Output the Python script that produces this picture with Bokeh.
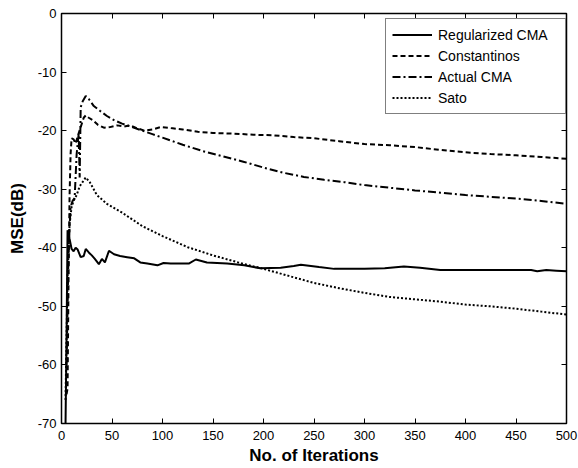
from bokeh.plotting import figure
from bokeh.models import (Range1d, FixedTicker, LinearAxis, Legend, LegendItem)
from bokeh.embed import file_html
from bokeh.resources import INLINE

# ---------------- data ----------------
reg_x = [4, 5, 6, 7, 8, 10, 12, 14, 16, 19, 22, 24, 27, 30, 33, 37, 40, 43, 47, 52,
         58, 65, 72, 78, 85, 95, 101, 108, 115, 126, 133, 144, 164, 181, 197, 217,
         230, 237, 255, 270, 300, 320, 339, 355, 375, 400, 448, 465, 471, 480, 490, 500]
reg_y = [-70, -55, -37, -37.5, -38.5, -40.2, -40.6, -40, -40.3, -41.6, -41.4, -40.2,
         -40.8, -41.3, -41.9, -42.8, -41.9, -42.5, -40.5, -41.1, -41.4, -41.6, -41.8,
         -42.5, -42.7, -43.0, -42.6, -42.7, -42.7, -42.7, -42.0, -42.5, -42.7, -43.0,
         -43.5, -43.4, -43.1, -42.9, -43.3, -43.6, -43.6, -43.5, -43.2, -43.4, -43.8,
         -43.8, -43.8, -43.8, -44.0, -43.8, -43.9, -44.0]

con_x = [5, 6, 7, 8, 9, 10, 12, 14, 16, 19, 22, 24, 27, 31, 36, 42, 48, 55, 62, 68,
         75, 82, 90, 98, 110, 120, 135, 150, 170, 190, 210, 230, 250, 275, 300, 325,
         350, 375, 400, 425, 450, 475, 500]
con_y = [-65, -64, -45, -31, -24, -21.3, -21.5, -22.2, -21, -19.4, -17.8, -17.4, -17.8,
         -18.2, -19, -19.5, -19.4, -19.1, -19.3, -19.1, -19.6, -20.0, -19.8, -19.4,
         -19.6, -19.8, -20.2, -20.4, -20.5, -20.7, -20.8, -21.1, -21.3, -21.8, -22.3,
         -22.5, -22.8, -23.3, -23.7, -24.0, -24.2, -24.5, -24.8]

act_x = [5, 7, 9, 11, 13, 15, 17, 18, 19, 21, 24, 27, 32, 38, 45, 52, 60, 70, 80, 90,
         100, 120, 140, 160, 180, 200, 220, 240, 260, 280, 300, 325, 350, 375, 400,
         425, 450, 475, 500]
act_y = [-60, -40, -33, -32, -31.5, -24, -20.5, -28, -16, -15, -14.1, -14.6, -15.8,
         -16.6, -17.5, -18.2, -18.8, -19.4, -20, -20.6, -21.2, -22.4, -23.5, -24.4,
         -25.3, -26.3, -27.2, -27.9, -28.4, -28.8, -29.3, -29.75, -30.2, -30.6, -31.0,
         -31.3, -31.6, -32.0, -32.5]

sato_x = [4, 6, 8, 10, 12, 15, 18, 20, 24, 28, 35, 45, 60, 80, 100, 125, 150, 175, 200,
          225, 250, 275, 300, 325, 350, 375, 400, 425, 450, 475, 500]
sato_y = [-66, -45, -36, -33, -32, -31, -29.5, -29, -28, -28.8, -31.0, -32.5, -34.0,
          -36.3, -38.0, -39.9, -41.3, -42.5, -43.6, -44.8, -46.0, -46.9, -47.7, -48.4,
          -48.8, -49.2, -49.7, -50.0, -50.4, -50.9, -51.4]

series_names = ["Regularized CMA", "Constantinos", "Actual CMA", "Sato"]

x_ticks = [0, 50, 100, 150, 200, 250, 300, 350, 400, 450, 500]
x_tick_labels = ["0", "50", "100", "150", "200", "250", "300", "350", "400", "450", "500"]
y_ticks = [-70, -60, -50, -40, -30, -20, -10, 0]
y_tick_labels = ["-70", "-60", "-50", "-40", "-30", "-20", "-10", "0"]

FONT = "Liberation Sans"

p = figure(frame_width=505, frame_height=410,
           x_range=Range1d(0, 500), y_range=Range1d(-70, 0),
           output_backend="svg", toolbar_location=None,
           min_border_left=61, min_border_right=12, min_border_top=13, min_border_bottom=45,
           background_fill_color="white", border_fill_color="white")
p.xgrid.visible = False
p.ygrid.visible = False
p.outline_line_color = "black"
p.outline_line_width = 1.5
p.outline_line_alpha = 1.0

def style_axis(ax, ticks, labels, show_labels=True):
    ax.ticker = FixedTicker(ticks=ticks)
    ax.major_label_overrides = {t: l for t, l in zip(ticks, labels)}
    ax.axis_line_color = None
    ax.major_tick_in = 5
    ax.major_tick_out = 0
    ax.major_tick_line_color = "black"
    ax.major_tick_line_width = 1
    ax.minor_tick_line_color = None
    ax.major_label_text_font = FONT
    ax.major_label_text_color = "black"
    if show_labels:
        ax.major_label_text_font_size = "13px"
    else:
        ax.major_label_text_font_size = "0px"
        ax.major_label_standoff = 0

xa = p.xaxis[0]
style_axis(xa, x_ticks, x_tick_labels)
xa.major_label_standoff = 7
xa.axis_label = "No. of Iterations"
xa.axis_label_text_font = FONT
xa.axis_label_text_font_size = "17px"
xa.axis_label_text_font_style = "bold"
xa.axis_label_text_color = "black"
xa.axis_label_standoff = 3

ya = p.yaxis[0]
style_axis(ya, y_ticks, y_tick_labels)
ya.major_label_standoff = 5
ya.axis_label = "MSE(dB)"
ya.axis_label_text_font = FONT
ya.axis_label_text_font_size = "17px"
ya.axis_label_text_font_style = "bold"
ya.axis_label_text_color = "black"
ya.axis_label_standoff = 8

top_ax = LinearAxis()
style_axis(top_ax, x_ticks, [""] * len(x_ticks), show_labels=False)
p.add_layout(top_ax, "above")
right_ax = LinearAxis()
style_axis(right_ax, y_ticks, [""] * len(y_ticks), show_labels=False)
p.add_layout(right_ax, "right")

r_reg = p.line(reg_x, reg_y, line_color="black", line_width=2)
r_con = p.line(con_x, con_y, line_color="black", line_width=2, line_dash="5 3")
r_act = p.line(act_x, act_y, line_color="black", line_width=2, line_dash="8 3 2 3")
r_sato = p.line(sato_x, sato_y, line_color="black", line_width=2, line_dash="2 2")

legend = Legend(items=[LegendItem(label=n, renderers=[r])
                       for n, r in zip(series_names, [r_reg, r_con, r_act, r_sato])],
                location=(324, 309),
                padding=6, spacing=2, margin=0,
                glyph_width=40, glyph_height=19, label_height=19, label_width=121,
                label_standoff=6,
                label_text_font=FONT, label_text_font_size="14px",
                label_text_color="black",
                border_line_color="black", border_line_width=1,
                background_fill_color="white", background_fill_alpha=1.0)
p.add_layout(legend)

open("out.html", "w").write(file_html(p, INLINE))
